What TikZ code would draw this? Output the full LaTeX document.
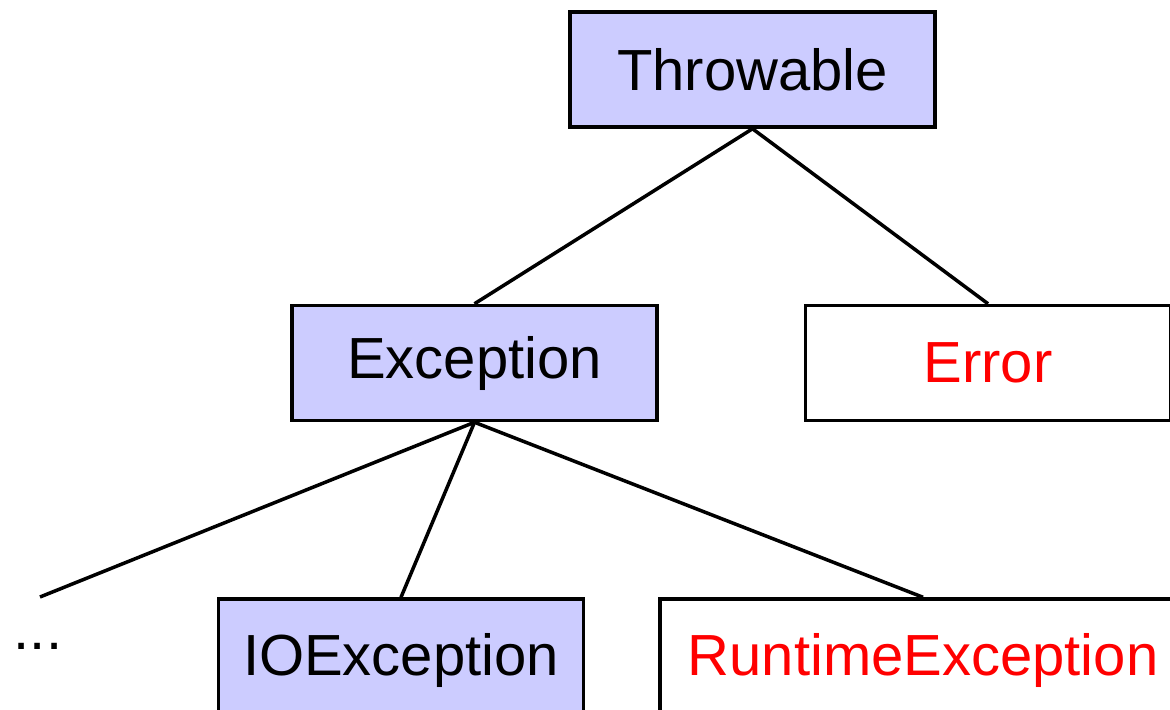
\documentclass[tikz,border=0pt]{standalone}
\usepackage{fontspec}
\setmainfont{Liberation Sans}
\usetikzlibrary{positioning}
\definecolor{classblue}{HTML}{CCCCFF}
\tikzset{
  class/.style     = {draw, line width=2pt, minimum width=7.3cm, minimum height=2.3cm,
                      inner sep=0pt, font=\fontsize{33}{38}\selectfont},
  checked/.style   = {class, fill=classblue},
  unchecked/.style = {class, fill=white, text=red},
  link/.style      = {line width=2pt}
}

\begin{document}
\begin{tikzpicture}
    \useasboundingbox (0,0) rectangle (23.4,-14.2);
    \clip (0,0) rectangle (23.4,-14.2);
    \node[checked] (throwable) at (15.05,-1.39) {Throwable};
    \node[checked] (exception) [below=3.5cm of throwable, xshift=-5.56cm] {Exception};
    \node[unchecked] (error) [right=2.9cm of exception] {Error};
    \node[checked, minimum height=2.44cm] (ioexception) [below=3.5cm of exception, xshift=-1.47cm] {IOException};
    \node[unchecked, minimum width=10.52cm, minimum height=2.44cm] (runtime) [right=1.46cm of ioexception] {RuntimeException};
    \node[font=\fontsize{33}{38}\selectfont, inner sep=0pt] (dots) at (0.76,-12.92) {...};
    \coordinate (dotsend) at (0.8,-11.94);
    % links
    \draw[link] (throwable.south) -- (exception.north);
    \draw[link] (throwable.south) -- (error.north);
    \draw[link] (exception.south) -- (dotsend);
    \draw[link] (exception.south) -- (ioexception.north);
    \draw[link] (exception.south) -- (runtime.north);
\end{tikzpicture}
\end{document}
